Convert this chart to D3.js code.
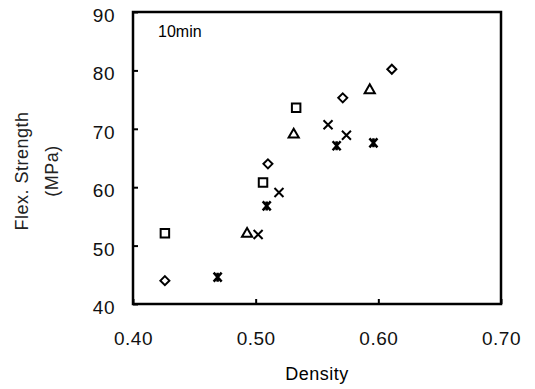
<!DOCTYPE html>
<html>
<head>
<meta charset="utf-8">
<script src="https://cdn.jsdelivr.net/npm/d3@7"></script>
<style>
  body { margin: 0; background: #fff; }
  svg { font-family: Arial, "Liberation Sans", sans-serif; }
</style>
</head>
<body>
<div class="chart"></div>
<script>
// points, [density, flex strength]
const diamonds = [[0.426, 44.0], [0.510, 64.0], [0.571, 75.3], [0.611, 80.2]]
const squares = [[0.426, 52.1], [0.506, 60.8], [0.533, 73.6]]
const triangles = [[0.493, 52.0], [0.531, 69.0], [0.593, 76.6]]
const crosses = [[0.502, 51.9], [0.519, 59.1], [0.559, 70.7], [0.574, 68.9]]
const stars = [[0.469, 44.6], [0.509, 56.8], [0.566, 67.1], [0.596, 67.6]]

const xTicks = [0.40, 0.50, 0.60, 0.70]
const yTicks = [40, 50, 60, 70, 80, 90]

const margin = ({top: 12, right: 34, bottom: 85, left: 133})
const width = 535 - margin.left - margin.right
const height = 389 - margin.top - margin.bottom

const svg = d3.select('.chart').append('svg')
    .attr('width', 535)
    .attr('height', 389)
  .append('g')
    .attr('transform', `translate(${margin.left},${margin.top})`)

const x = d3.scaleLinear().domain([0.40, 0.70]).range([0, width])
const y = d3.scaleLinear().domain([40, 90]).range([height, 0])

// axes with inward ticks
const xAxis = d3.axisBottom(x)
    .tickValues(xTicks)
    .tickFormat(d3.format('.2f'))
    .tickSize(-5)
    .tickPadding(28)

const yAxis = d3.axisLeft(y)
    .tickValues(yTicks)
    .tickSize(-5)
    .tickPadding(18)

const gx = svg.append('g')
    .attr('transform', `translate(0,${height})`)
    .call(xAxis)
const gy = svg.append('g').call(yAxis)

for (const g of [gx, gy]) {
    g.select('.domain').remove()
    g.selectAll('line').attr('stroke', '#000').attr('stroke-width', 2)
    g.selectAll('text')
        .attr('fill', '#111')
        .style('font-size', '19px')
        .style('letter-spacing', '0.5px')
}
gy.selectAll('text').attr('dy', '0.5em')

// frame
svg.append('rect')
    .attr('width', width)
    .attr('height', height)
    .attr('fill', 'none')
    .attr('stroke', '#000')
    .attr('stroke-width', 2.5)

svg.append('text')
    .attr('x', 25)
    .attr('y', 25)
    .style('font-size', '16px')
    .text('10min')

// axis titles
svg.append('text')
    .attr('x', width / 2)
    .attr('y', height + 76)
    .attr('text-anchor', 'middle')
    .style('font-size', '18px')
    .style('letter-spacing', '0.5px')
    .text('Density')

const yl = svg.append('text')
    .attr('transform', `translate(${-margin.left + 28},${height / 2 + 13}) rotate(-90)`)
    .attr('text-anchor', 'middle')
    .attr('fill', '#222')
    .style('font-size', '18px')
    .style('letter-spacing', '0.5px')
yl.append('tspan').attr('x', 0).attr('dy', 0).text('Flex. Strength')
yl.append('tspan').attr('x', 0).attr('dy', 30).text('(MPa)')

// markers
const sym = (type, size) => d3.symbol().type(type).size(size)()

function plot(data, path, fill, sw) {
    svg.append('g').selectAll('path')
        .data(data)
        .join('path')
        .attr('transform', d => `translate(${x(d[0])},${y(d[1])})`)
        .attr('d', path)
        .attr('fill', fill)
        .attr('stroke', '#000')
        .attr('stroke-width', sw)
}

plot(diamonds, 'M0,-4.5L4.5,0L0,4.5L-4.5,0Z', '#fff', 2)
plot(squares, sym(d3.symbolSquare, 72), '#fff', 2)
plot(triangles, sym(d3.symbolTriangle, 45), '#fff', 2)
plot(crosses, 'M-4.5,-4.5L4.5,4.5M-4.5,4.5L4.5,-4.5', 'none', 2)
plot(stars, 'M-4,-4.5L4,4.5M-4,4.5L4,-4.5M0,-4.5L0,4.5', 'none', 2.5)
</script>
</body>
</html>
